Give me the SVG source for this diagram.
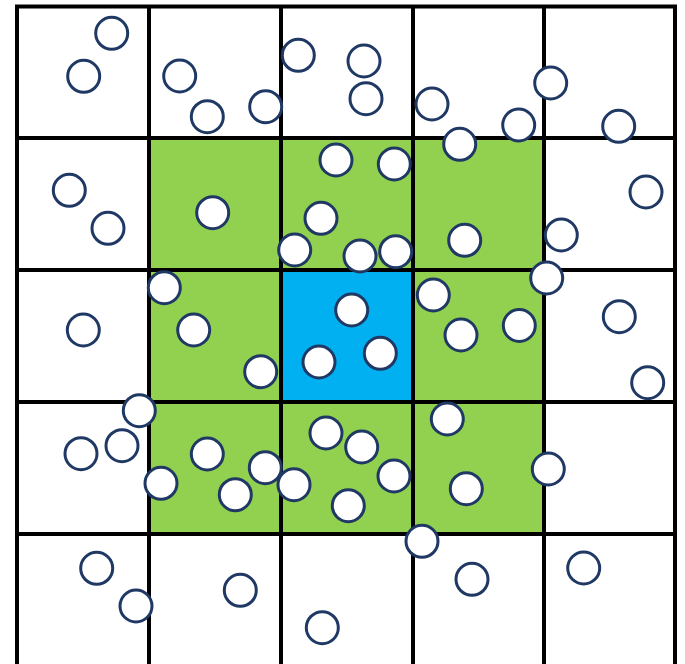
<svg xmlns="http://www.w3.org/2000/svg" width="685" height="664" viewBox="0 0 685 664">
<style>
.g{fill:#92D050}
.b{fill:#00B0F0}
.ln{stroke:#000;stroke-width:4;fill:none}
.c{fill:#fff;stroke:#1F3864;stroke-width:3}
</style>
<rect width="685" height="664" fill="#fff"/>
<g id="cells">
<rect class="g" x="149" y="138" width="132" height="132"/>
<rect class="g" x="281" y="138" width="132" height="132"/>
<rect class="g" x="413" y="138" width="131" height="132"/>
<rect class="g" x="149" y="270" width="132" height="132"/>
<rect class="b" x="281" y="270" width="132" height="132"/>
<rect class="g" x="413" y="270" width="131" height="132"/>
<rect class="g" x="149" y="402" width="132" height="132"/>
<rect class="g" x="281" y="402" width="132" height="132"/>
<rect class="g" x="413" y="402" width="131" height="132"/>
</g>
<g id="grid" class="ln">
<path d="M17 6.5V666M149 6.5V666M281 6.5V666M413 6.5V666M544 6.5V666M675 6.5V666"/>
<path d="M15 6.5H677M15 138H677M15 270H677M15 402H677M15 534H677M15 666H677"/>
</g>
<g id="particles">
<circle class="c" cx="111.7" cy="33.3" r="16"/>
<circle class="c" cx="83.7" cy="76.3" r="16"/>
<circle class="c" cx="179.7" cy="76" r="16"/>
<circle class="c" cx="207.3" cy="116.7" r="16"/>
<circle class="c" cx="265.7" cy="106.7" r="16"/>
<circle class="c" cx="298.3" cy="55.3" r="16"/>
<circle class="c" cx="69.3" cy="190.3" r="16"/>
<circle class="c" cx="108" cy="228.3" r="16"/>
<circle class="c" cx="212.7" cy="212.7" r="16"/>
<circle class="c" cx="336" cy="160" r="16"/>
<circle class="c" cx="321" cy="218.3" r="16"/>
<circle class="c" cx="294.7" cy="250" r="16"/>
<circle class="c" cx="164.3" cy="287.7" r="16"/>
<circle class="c" cx="193.7" cy="330" r="16"/>
<circle class="c" cx="83.3" cy="330" r="16"/>
<circle class="c" cx="364" cy="61" r="16"/>
<circle class="c" cx="366" cy="98.7" r="16"/>
<circle class="c" cx="432" cy="104" r="16"/>
<circle class="c" cx="550.7" cy="83" r="16"/>
<circle class="c" cx="518.7" cy="125" r="16"/>
<circle class="c" cx="618.7" cy="126.3" r="16"/>
<circle class="c" cx="459.7" cy="144.3" r="16"/>
<circle class="c" cx="394.3" cy="164" r="16"/>
<circle class="c" cx="646" cy="192" r="16"/>
<circle class="c" cx="561.3" cy="235" r="16"/>
<circle class="c" cx="464.7" cy="240.3" r="16"/>
<circle class="c" cx="360" cy="256" r="16"/>
<circle class="c" cx="395.7" cy="251.7" r="16"/>
<circle class="c" cx="546.7" cy="278" r="16"/>
<circle class="c" cx="433.3" cy="295" r="16"/>
<circle class="c" cx="351.7" cy="310" r="16"/>
<circle class="c" cx="461" cy="335" r="16"/>
<circle class="c" cx="519.3" cy="325.5" r="16"/>
<circle class="c" cx="619.3" cy="316.7" r="16"/>
<circle class="c" cx="260.7" cy="371.7" r="16"/>
<circle class="c" cx="319" cy="362" r="16"/>
<circle class="c" cx="380.3" cy="353.3" r="16"/>
<circle class="c" cx="647.7" cy="382.7" r="16"/>
<circle class="c" cx="139.3" cy="410.7" r="16"/>
<circle class="c" cx="122" cy="445.7" r="16"/>
<circle class="c" cx="81" cy="453.7" r="16"/>
<circle class="c" cx="207.3" cy="454" r="16"/>
<circle class="c" cx="161" cy="483.3" r="16"/>
<circle class="c" cx="235.3" cy="494.7" r="16"/>
<circle class="c" cx="265.3" cy="467.7" r="16"/>
<circle class="c" cx="294" cy="484.7" r="16"/>
<circle class="c" cx="326" cy="433" r="16"/>
<circle class="c" cx="447.3" cy="419" r="16"/>
<circle class="c" cx="361.7" cy="447" r="16"/>
<circle class="c" cx="394" cy="476" r="16"/>
<circle class="c" cx="348.3" cy="505.7" r="16"/>
<circle class="c" cx="548.3" cy="469" r="16"/>
<circle class="c" cx="466.3" cy="488.7" r="16"/>
<circle class="c" cx="422" cy="541.3" r="16"/>
<circle class="c" cx="472" cy="579.3" r="16"/>
<circle class="c" cx="583.7" cy="568" r="16"/>
<circle class="c" cx="96.7" cy="568.3" r="16"/>
<circle class="c" cx="136" cy="606" r="16"/>
<circle class="c" cx="240.3" cy="590.3" r="16"/>
<circle class="c" cx="322.3" cy="627.7" r="16"/>
</g>
</svg>
